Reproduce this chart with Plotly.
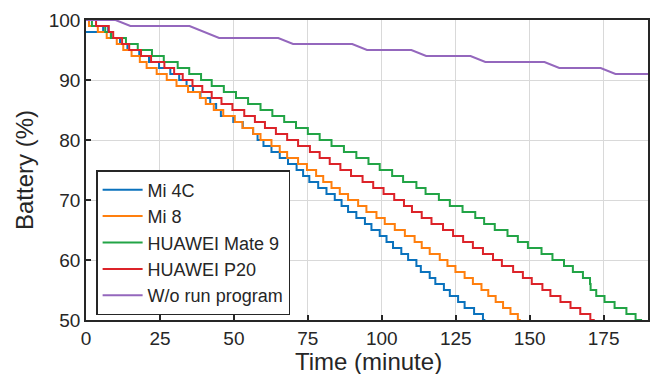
import plotly.graph_objects as go

# ---- data ----
mi4c_t = [0, 5.8, 7.5, 8.5, 11.5, 14, 18, 21.3, 24.7, 28.5, 31.5, 34, 36.2, 38.7, 42, 44, 45.6,
          49.8, 53, 56.5, 58, 60, 62.7, 65.5, 68.3, 71.2, 73.4, 75.5, 78.5, 81.3, 84.1, 86.4,
          88.6, 91.4, 94.3, 96.5, 99.3, 101.6, 103.8, 106.6, 108.9, 111.7, 113.2, 116.2,
          118.1, 121, 123, 125.8, 128, 131.2, 134.2, 135]
mi4c_v = [98, 99, 98, 97, 96, 95, 94, 93, 92, 91, 90, 89, 88, 87, 86, 85, 84, 83, 82, 81, 80,
          79, 78, 77, 76, 75, 74, 73, 72, 71, 70, 69, 68, 67, 66, 65, 64, 63, 62, 61, 60, 59,
          58, 57, 56, 55, 54, 53, 52, 51, 50, 50]

mi8_t = [0, 1, 4, 7, 10.4, 12.6, 15.4, 18.2, 20.5, 23.9, 27.3, 30.6, 34.5, 38.5, 40.5, 43.2,
         46.4, 50.3, 52.9, 56.5, 59, 62.7, 65.5, 68, 71.7, 74.7, 77.8, 80.2, 83, 85.8, 88.6,
         92, 94.8, 98.2, 101, 104.4, 107.8, 111.1, 113.5, 116.2, 119.6, 122.2, 124.9, 128,
         130.8, 133.7, 136, 138.5, 141, 143.5, 146, 147]
mi8_v = [100, 99, 98, 97, 96, 95, 94, 93, 92, 91, 90, 89, 88, 87, 86, 85, 84, 83, 82, 81, 80,
         79, 78, 77, 76, 75, 74, 73, 72, 71, 70, 69, 68, 67, 66, 65, 64, 63, 62, 61, 60, 59,
         58, 57, 56, 55, 54, 53, 52, 51, 50, 50]

mate9_t = [0, 2, 6.5, 8.4, 13.5, 17.5, 22.3, 26.3, 31, 34.9, 38.9, 42.5, 46.6, 50.7, 54.8, 59,
           63, 67, 71, 75, 79, 83, 87.2, 91.4, 95.5, 99.3, 103.5, 107.2, 111.7, 114.8, 119.3,
           123, 127.3, 131.6, 134.6, 138.2, 142.5, 146, 149.4, 154, 157.7, 161.6, 164.6, 168,
           170.4, 170.6, 172.5, 175.3, 178.7, 182.7, 185.8, 188]
mate9_v = [100, 99, 98, 97, 96, 95, 94, 93, 92, 91, 90, 89, 88, 87, 86, 85, 84, 83, 82, 81, 80,
           79, 78, 77, 76, 75, 74, 73, 72, 71, 70, 69, 68, 67, 66, 65, 64, 63, 62, 61, 60, 59,
           58, 57, 56, 55, 54, 53, 52, 51, 50, 50]

p20_t = [0, 3.4, 7.7, 9.2, 12.2, 14.6, 18.6, 22, 26.5, 29.8, 32.7, 36, 39.3, 42.5, 45.8, 49.5,
         53.5, 57.1, 60.5, 64.2, 68, 71.7, 75.7, 79, 82.4, 86, 89.6, 93.5, 97.1, 100.6, 104.2,
         107.5, 110.2, 113.5, 116.8, 120.7, 124.1, 127.5, 130.8, 134.2, 137.6, 140.6, 144.4,
         147.7, 150.7, 154.3, 157, 160.4, 163.8, 167.1, 170.5, 172]
p20_v = [100, 99, 98, 97, 96, 95, 94, 93, 92, 91, 90, 89, 88, 87, 86, 85, 84, 83, 82, 81, 80,
         79, 78, 77, 76, 75, 74, 73, 72, 71, 70, 69, 68, 67, 66, 65, 64, 63, 62, 61, 60, 59,
         58, 57, 56, 55, 54, 53, 52, 51, 50, 50]

idle_t = [0, 10, 15, 35, 45, 65, 70, 90, 95, 110, 115, 130, 135, 155, 160, 174, 179, 190]
idle_v = [100, 100, 99, 99, 97, 97, 96, 96, 95, 95, 94, 94, 93, 93, 92, 92, 91, 91]

x_ticks = [0, 25, 50, 75, 100, 125, 150, 175]
y_ticks = [50, 60, 70, 80, 90, 100]

FONT = "Liberation Sans, Arial, Helvetica, sans-serif"

series = [
    ("Mi 4C", mi4c_t, mi4c_v, "#0a72bd", "hv"),
    ("Mi 8", mi8_t, mi8_v, "#ff7f0e", "hv"),
    ("HUAWEI Mate 9", mate9_t, mate9_v, "#22a446", "hv"),
    ("HUAWEI P20", p20_t, p20_v, "#dc2329", "hv"),
    ("W/o run program", idle_t, idle_v, "#9467bd", "linear"),
]

fig = go.Figure()
for name, t, v, c, shape in series:
    fig.add_trace(go.Scatter(x=t, y=v, mode="lines", name=name,
                             line=dict(color=c, width=2, shape=shape)))

axis_common = dict(
    showline=True, mirror=True, linecolor="#262626", linewidth=1.5,
    showgrid=True, gridcolor="#d9d9d9", gridwidth=1,
    ticks="inside", ticklen=5, tickwidth=1.5, tickcolor="#262626",
    tickfont=dict(family=FONT, size=19, color="#262626"),
    zeroline=False, automargin=False,
)

fig.update_xaxes(range=[0, 190], tickvals=x_ticks, **axis_common)
fig.update_yaxes(range=[50, 100], tickvals=y_ticks,
                 title=dict(text="Battery (%)", font=dict(family=FONT, size=24, color="#262626"),
                            standoff=8),
                 **axis_common)

fig.add_annotation(text="Time (minute)", xref="paper", yref="paper",
                   x=0.502, y=-0.137, xanchor="center", yanchor="middle",
                   showarrow=False, font=dict(family=FONT, size=24, color="#262626"))

fig.update_layout(
    width=660, height=374,
    margin=dict(l=86, r=12, t=20, b=54),
    plot_bgcolor="white", paper_bgcolor="white",
    font=dict(family=FONT, color="#262626"),
    legend=dict(x=0.018, y=0.5, xanchor="left", yanchor="top",
                bgcolor="white", bordercolor="#262626", borderwidth=1.5,
                font=dict(family=FONT, size=18, color="#262626"),
                itemwidth=40, tracegroupgap=0),
    showlegend=True,
)

fig.write_html("out.html")
